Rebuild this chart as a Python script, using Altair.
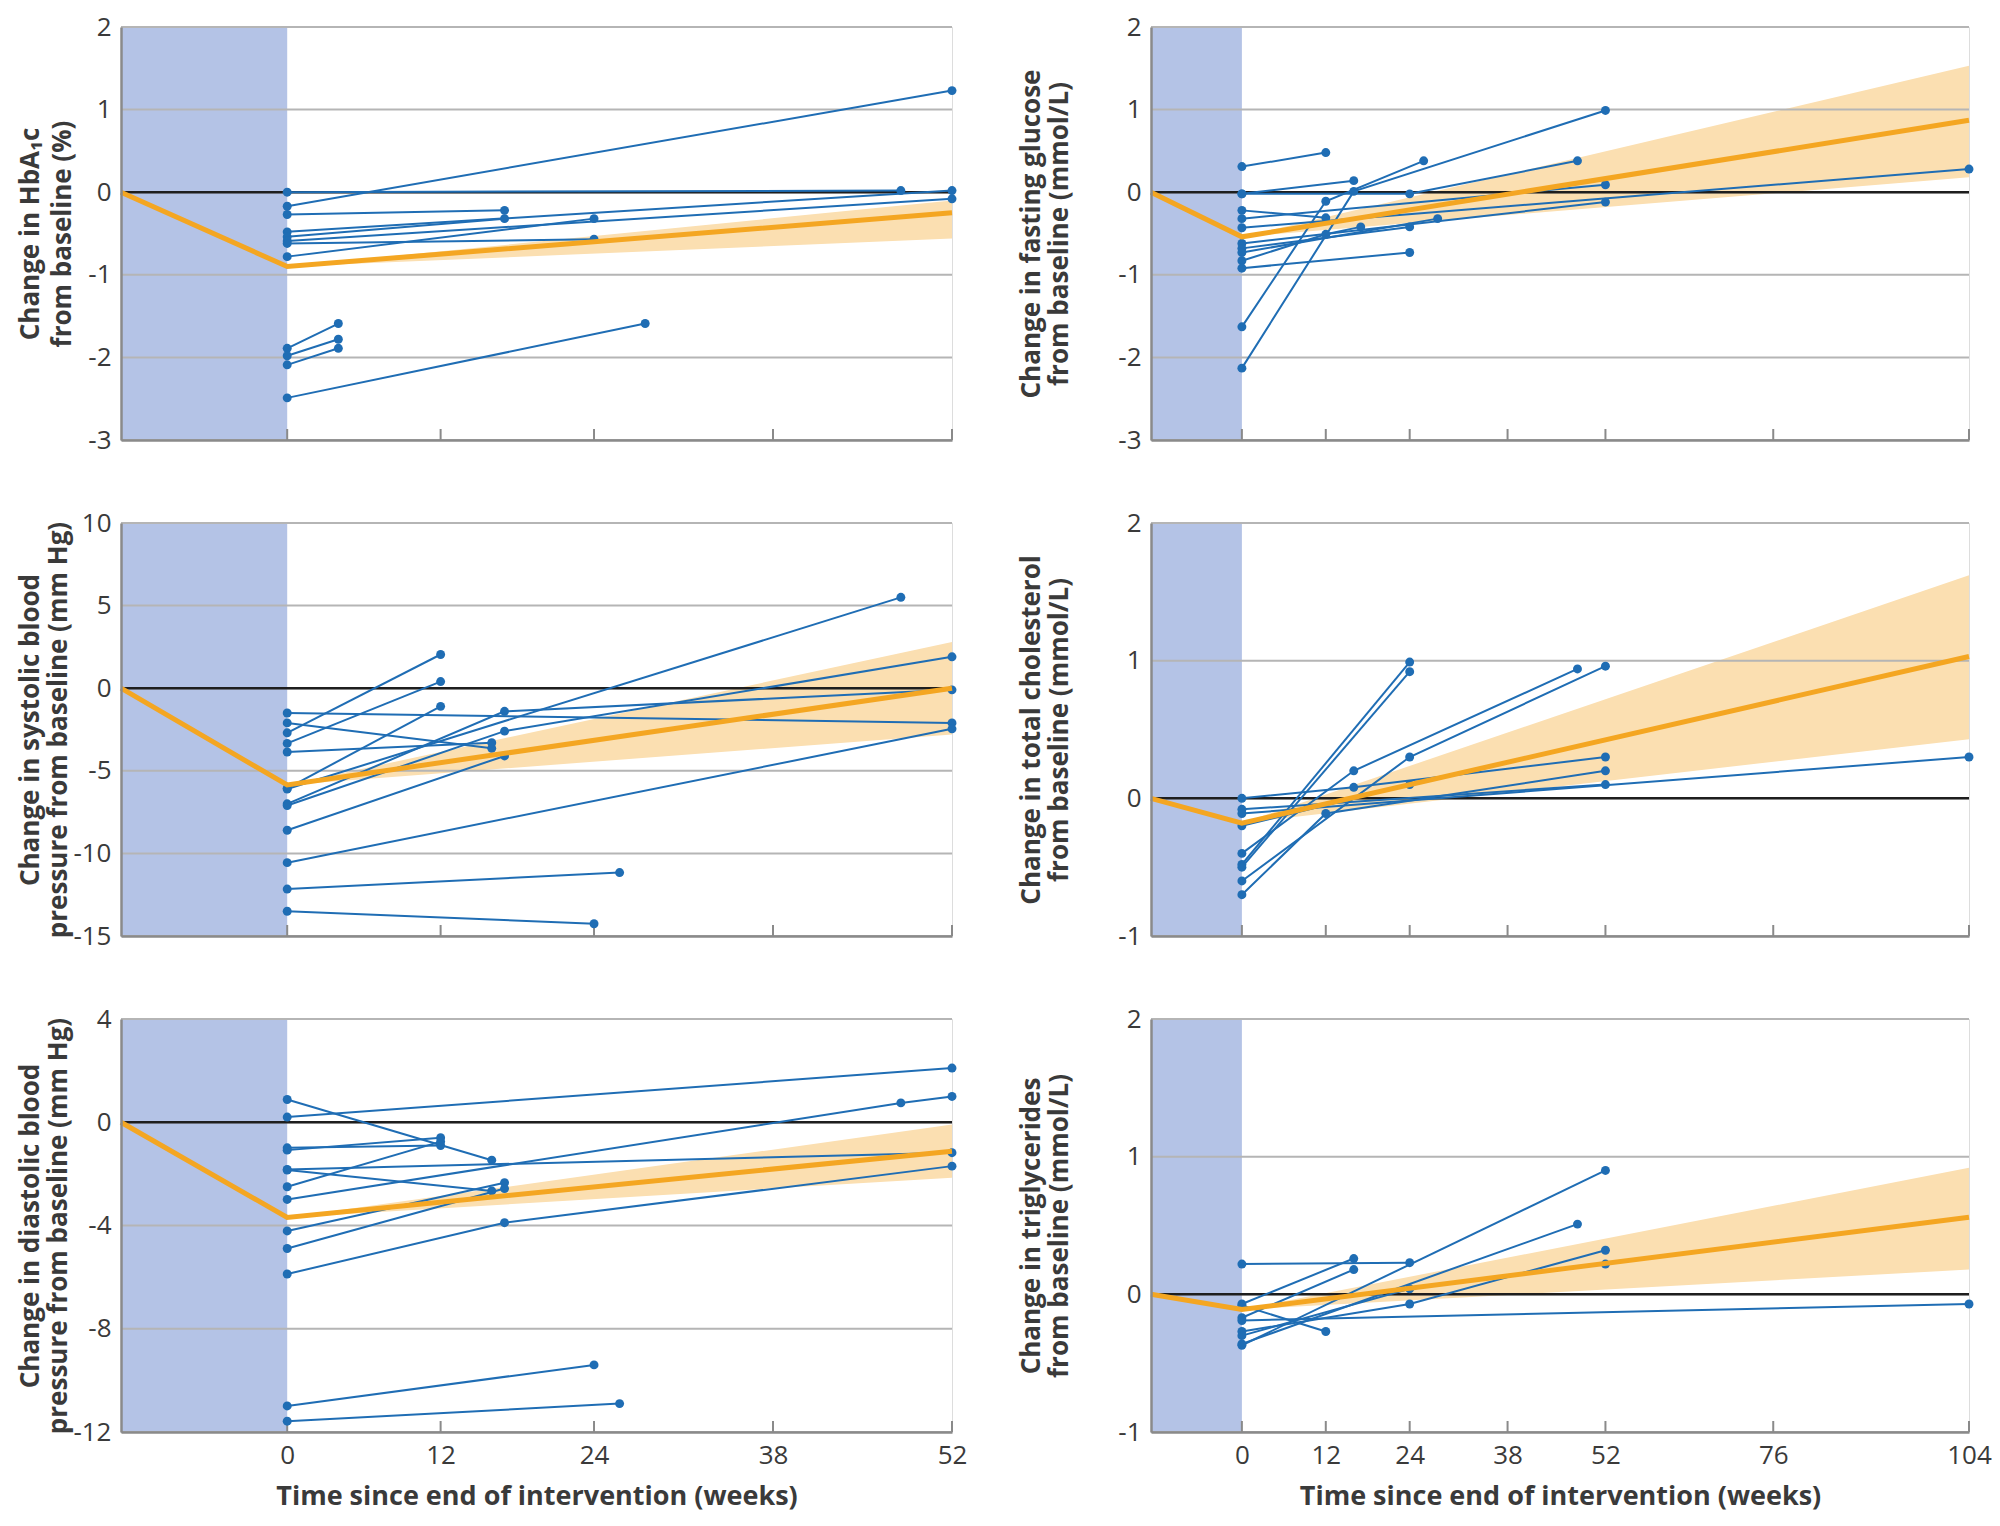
import altair as alt
import pandas as pd

FONT = "Open Sans"
BLUE = "#1f6db4"
ORANGE = "#f4a622"
BAND = "#fbdfb1"
SHADE = "#b4c3e6"
GRID = "#b5b5b5"
AXIS_C = "#8a8a8a"
ZERO = "#1e1e1e"
TEXT = "#3a3a3a"

X_TITLE = "Time since end of intervention (weeks)"

# x axes (weeks since end of intervention; negative = intervention period)
left_xdomain = [-13, 52]
left_xticks = [0, 12, 24, 38, 52]
right_xdomain = [-13, 104]
right_xticks = [0, 12, 24, 38, 52, 76, 104]
intervention_end = 0

# ---------------- HbA1c ----------------
hba1c_title = ["Change in HbA\u2081c", "from baseline (%)"]
hba1c_yticks = [2, 1, 0, -1, -2, -3]
hba1c_studies = [
    [(0, 0.0), (48, 0.02)],
    [(0, -0.17), (52, 1.23)],
    [(0, -0.27), (17, -0.22)],
    [(0, -0.48), (52, 0.02)],
    [(0, -0.54), (17, -0.32)],
    [(0, -0.59), (52, -0.08)],
    [(0, -0.62), (24, -0.57)],
    [(0, -0.78), (24, -0.32)],
    [(0, -1.89), (4, -1.59)],
    [(0, -1.98), (4, -1.78)],
    [(0, -2.09), (4, -1.89)],
    [(0, -2.49), (28, -1.59)],
]
hba1c_mean_weeks = [-13, 0, 52]
hba1c_mean = [0, -0.90, -0.25]
hba1c_band_weeks = [0, 52]
hba1c_band_lo = [-0.90, -0.56]
hba1c_band_hi = [-0.90, -0.10]

# ---------------- Fasting glucose ----------------
glu_title = ["Change in fasting glucose", "from baseline (mmol/L)"]
glu_yticks = [2, 1, 0, -1, -2, -3]
glu_studies = [
    [(0, 0.31), (12, 0.48)],
    [(0, -0.02), (16, 0.14)],
    [(0, -0.02), (24, -0.02), (48, 0.38)],
    [(0, -0.22), (12, -0.31)],
    [(0, -0.32), (52, 0.09)],
    [(0, -0.43), (104, 0.28)],
    [(0, -0.62), (52, -0.12)],
    [(0, -0.68), (24, -0.42)],
    [(0, -0.73), (28, -0.32)],
    [(0, -0.83), (12, -0.51), (17, -0.42)],
    [(0, -0.92), (24, -0.73)],
    [(0, -1.63), (12, -0.11), (26, 0.38)],
    [(0, -2.13), (16, 0.01), (52, 0.99)],
]
glu_mean_weeks = [-13, 0, 104]
glu_mean = [0, -0.54, 0.87]
glu_band_weeks = [0, 104]
glu_band_lo = [-0.54, 0.18]
glu_band_hi = [-0.54, 1.53]

# ---------------- Systolic BP ----------------
sbp_title = ["Change in systolic blood", "pressure from baseline (mm Hg)"]
sbp_yticks = [10, 5, 0, -5, -10, -15]
sbp_studies = [
    [(0, -1.5), (52, -2.1)],
    [(0, -2.1), (16, -3.64)],
    [(0, -2.7), (12, 2.04)],
    [(0, -3.34), (12, 0.4)],
    [(0, -3.86), (16, -3.3)],
    [(0, -6.06), (12, -1.1)],
    [(0, -6.1), (48, 5.5)],
    [(0, -7.0), (17, -1.4), (52, -0.1)],
    [(0, -7.1), (17, -2.6), (52, 1.9)],
    [(0, -8.6), (17, -4.1)],
    [(0, -10.56), (52, -2.46)],
    [(0, -12.16), (26, -11.16)],
    [(0, -13.5), (24, -14.26)],
]
sbp_mean_weeks = [-13, 0, 52]
sbp_mean = [0, -5.86, 0.0]
sbp_band_weeks = [0, 52]
sbp_band_lo = [-5.86, -2.8]
sbp_band_hi = [-5.86, 2.8]

# ---------------- Total cholesterol ----------------
tc_title = ["Change in total cholesterol", "from baseline (mmol/L)"]
tc_yticks = [2, 1, 0, -1]
tc_studies = [
    [(0, 0.0), (16, 0.08), (52, 0.30)],
    [(0, -0.08), (52, 0.10)],
    [(0, -0.11), (104, 0.30)],
    [(0, -0.20), (24, 0.10)],
    [(0, -0.40), (16, 0.20), (48, 0.94)],
    [(0, -0.48), (24, 0.99)],
    [(0, -0.50), (24, 0.92)],
    [(0, -0.60), (24, 0.30), (52, 0.96)],
    [(0, -0.70), (12, -0.11), (52, 0.20)],
]
tc_mean_weeks = [-13, 0, 104]
tc_mean = [0, -0.18, 1.03]
tc_band_weeks = [0, 104]
tc_band_lo = [-0.18, 0.43]
tc_band_hi = [-0.18, 1.62]

# ---------------- Diastolic BP ----------------
dbp_title = ["Change in diastolic blood", "pressure from baseline (mm Hg)"]
dbp_yticks = [4, 0, -4, -8, -12]
dbp_studies = [
    [(0, 0.88), (16, -1.47)],
    [(0, 0.2), (52, 2.1)],
    [(0, -0.99), (12, -0.9)],
    [(0, -1.08), (12, -0.6)],
    [(0, -1.83), (52, -1.18)],
    [(0, -1.85), (16, -2.66)],
    [(0, -2.5), (12, -0.75)],
    [(0, -2.99), (48, 0.75), (52, 1.0)],
    [(0, -4.21), (17, -2.34)],
    [(0, -4.89), (17, -2.57)],
    [(0, -5.88), (17, -3.89), (52, -1.70)],
    [(0, -10.99), (24, -9.4)],
    [(0, -11.58), (26, -10.9)],
]
dbp_mean_weeks = [-13, 0, 52]
dbp_mean = [0, -3.69, -1.12]
dbp_band_weeks = [0, 52]
dbp_band_lo = [-3.69, -2.15]
dbp_band_hi = [-3.69, -0.09]

# ---------------- Triglycerides ----------------
tg_title = ["Change in triglycerides", "from baseline (mmol/L)"]
tg_yticks = [2, 1, 0, -1]
tg_studies = [
    [(0, 0.22), (24, 0.23)],
    [(0, -0.07), (16, 0.26)],
    [(0, -0.17), (16, 0.18)],
    [(0, -0.19), (104, -0.07)],
    [(0, -0.08), (12, -0.27)],
    [(0, -0.27), (24, -0.07), (52, 0.32)],
    [(0, -0.37), (52, 0.90)],
    [(0, -0.36), (48, 0.51)],
    [(0, -0.30), (24, 0.04), (52, 0.22)],
]
tg_mean_weeks = [-13, 0, 104]
tg_mean = [0, -0.11, 0.56]
tg_band_weeks = [0, 104]
tg_band_lo = [-0.11, 0.18]
tg_band_hi = [-0.11, 0.92]

PLOT_H = 413
LEFT_W = 831
RIGHT_W = 818
YTITLE_FS = 26
XTITLE_FS = 27


def make_panel(title, yticks, studies, mean_w, mean_v, band_w, band_lo, band_hi,
               xdomain, xticks, width, bottom, title_x, title_lh=28):
    ydom = [min(yticks), max(yticks)]
    xscale = alt.Scale(domain=xdomain, nice=False, zero=False)
    yscale = alt.Scale(domain=ydom, nice=False, zero=False)
    if bottom:
        xaxis = alt.Axis(values=xticks, ticks=False, grid=False, domainColor=AXIS_C,
                         domainWidth=2.5, labelFontSize=26, labelPadding=10,
                         labelFlush=False, labelColor=TEXT, labelFont=FONT,
                         labelExpr="'' + datum.value",
                         title=X_TITLE, titleFontSize=XTITLE_FS, titleFontWeight="bold",
                         titleFont=FONT, titleColor=TEXT, titlePadding=15, zindex=1)
    else:
        xaxis = alt.Axis(values=xticks, ticks=False, grid=False, domainColor=AXIS_C,
                         domainWidth=2.5, labels=False, title=None, zindex=1)
    yaxis = alt.Axis(values=yticks, ticks=False, grid=False, domainColor=AXIS_C,
                     domainWidth=2.5, labelFontSize=26, labelPadding=10,
                     labelColor=TEXT, labelFont=FONT, labelExpr="'' + datum.value",
                     title=title, titleFontSize=YTITLE_FS, titleFontWeight="bold",
                     titleFont=FONT, titleColor=TEXT, titleLineHeight=title_lh,
                     titleBaseline="top", titleX=title_x, titleY=PLOT_H / 2,
                     titleAngle=270, titleAlign="center", zindex=1)

    def X(f):
        return alt.X(f, type="quantitative", scale=xscale, axis=xaxis)

    def Y(f):
        return alt.Y(f, type="quantitative", scale=yscale, axis=yaxis)

    rect_df = pd.DataFrame({"x0": [xdomain[0]], "x1": [intervention_end],
                            "y0": [ydom[0]], "y1": [ydom[1]]})
    rect = alt.Chart(rect_df).mark_rect(color=SHADE).encode(
        x=X("x0"), x2="x1", y=Y("y0"), y2="y1")

    band_df = pd.DataFrame({"week": band_w, "lo": band_lo, "hi": band_hi})
    band = alt.Chart(band_df).mark_area(color=BAND, opacity=1).encode(
        x=X("week"), y=Y("lo"), y2="hi")

    grid = alt.Chart(pd.DataFrame({"v": yticks})).mark_rule(
        color=GRID, strokeWidth=2).encode(y=Y("v"))
    zero = alt.Chart(pd.DataFrame({"v": [0]})).mark_rule(
        color=ZERO, strokeWidth=2.5).encode(y=Y("v"))
    ticks = alt.Chart(pd.DataFrame({"t": xticks})).mark_rule(
        color=AXIS_C, strokeWidth=2).encode(
        x=X("t"), y=alt.value(PLOT_H - 11), y2=alt.value(PLOT_H))

    rows = []
    for sid, pts in enumerate(studies):
        for idx, (w, v) in enumerate(pts):
            rows.append({"study": sid, "idx": idx, "week": w, "value": v})
    sdf = pd.DataFrame(rows)
    lines = alt.Chart(sdf).mark_line(color=BLUE, strokeWidth=2).encode(
        x=X("week"), y=Y("value"), detail="study:N", order="idx:Q")
    points = alt.Chart(sdf).mark_circle(color=BLUE, size=80, opacity=1).encode(
        x=X("week"), y=Y("value"))

    mdf = pd.DataFrame({"week": mean_w, "value": mean_v})
    mean = alt.Chart(mdf).mark_line(color=ORANGE, strokeWidth=5).encode(
        x=X("week"), y=Y("value"))

    return alt.layer(rect, band, grid, zero, ticks, lines, points, mean).properties(
        width=width, height=PLOT_H)


LEFT_TX = -104
RIGHT_TX = -133

panels = [
    make_panel(hba1c_title, hba1c_yticks, hba1c_studies, hba1c_mean_weeks, hba1c_mean,
               hba1c_band_weeks, hba1c_band_lo, hba1c_band_hi,
               left_xdomain, left_xticks, LEFT_W, False, LEFT_TX, 32),
    make_panel(glu_title, glu_yticks, glu_studies, glu_mean_weeks, glu_mean,
               glu_band_weeks, glu_band_lo, glu_band_hi,
               right_xdomain, right_xticks, RIGHT_W, False, RIGHT_TX),
    make_panel(sbp_title, sbp_yticks, sbp_studies, sbp_mean_weeks, sbp_mean,
               sbp_band_weeks, sbp_band_lo, sbp_band_hi,
               left_xdomain, left_xticks, LEFT_W, False, LEFT_TX),
    make_panel(tc_title, tc_yticks, tc_studies, tc_mean_weeks, tc_mean,
               tc_band_weeks, tc_band_lo, tc_band_hi,
               right_xdomain, right_xticks, RIGHT_W, False, RIGHT_TX),
    make_panel(dbp_title, dbp_yticks, dbp_studies, dbp_mean_weeks, dbp_mean,
               dbp_band_weeks, dbp_band_lo, dbp_band_hi,
               left_xdomain, left_xticks, LEFT_W, True, LEFT_TX),
    make_panel(tg_title, tg_yticks, tg_studies, tg_mean_weeks, tg_mean,
               tg_band_weeks, tg_band_lo, tg_band_hi,
               right_xdomain, right_xticks, RIGHT_W, True, RIGHT_TX),
]

chart = alt.concat(*panels, columns=2, spacing={"row": 55, "column": 49}).properties(
    padding={"left": 8, "top": 5, "right": 0, "bottom": 6}
).configure_view(stroke=None).configure(font=FONT, background="white")

chart.save("out.html", embed_options={"renderer": "svg", "actions": False})
